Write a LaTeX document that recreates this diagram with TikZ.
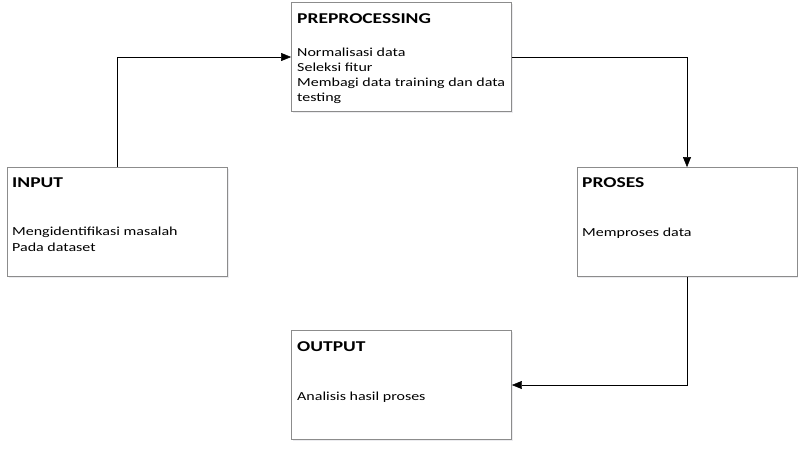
\documentclass[tikz,border=0pt]{standalone}
\usepackage{fontspec}
\setmainfont[FakeStretch=1.3]{Carlito}
\usetikzlibrary{arrows.meta,shadows}

\begin{document}
\begin{tikzpicture}[x=1pt,y=-1pt,>={Triangle[length=10pt,width=8pt]}]
    \tikzstyle{box}=[rectangle,draw=black!45,line width=0.8pt,fill=white,inner sep=0pt,
        minimum width=220pt,minimum height=109pt,
        drop shadow={shadow xshift=1.2pt,shadow yshift=-1.5pt,fill=blue!20!black!15}]
    \tikzstyle{title}=[anchor=base west,inner sep=0pt,font=\fontsize{15}{17}\selectfont\bfseries]
    \tikzstyle{body}=[anchor=base west,inner sep=0pt,align=left,font=\fontsize{12.3}{15}\selectfont]
    \useasboundingbox (0,0) rectangle (805,450);
    \node (prep)   at (401.5,57)  [box] {};
    \node (input)  at (117.5,222) [box] {};
    \node (proses) at (687,222)   [box] {};
    \node (output) at (401.5,385) [box] {};
    \node (prept)   at (297,23)  [title] {PREPROCESSING};
    \node (prep1)   at (297,56)  [body] {Normalisasi data};
    \node (prep2)   at (297,71)  [body] {Seleksi fitur};
    \node (prep3)   at (297,86)  [body] {Membagi data training dan data};
    \node (prep4)   at (297,101) [body] {testing};
    \node (inputt)  at (12,187)  [title] {INPUT};
    \node (input1)  at (12,235)  [body] {Mengidentifikasi masalah};
    \node (input2)  at (12,251)  [body] {Pada dataset};
    \node (prosest) at (582,187) [title] {PROSES};
    \node (proses1) at (582,236) [body] {Memproses data};
    \node (outputt) at (297,351) [title] {OUTPUT};
    \node (output1) at (297,400) [body] {Analisis hasil proses};
    \draw [->] (input.north) |- (prep.west);
    \draw [->] (prep.east) -| (proses.north);
    \draw [->] (proses.south) |- (output.east);
\end{tikzpicture}
\end{document}
